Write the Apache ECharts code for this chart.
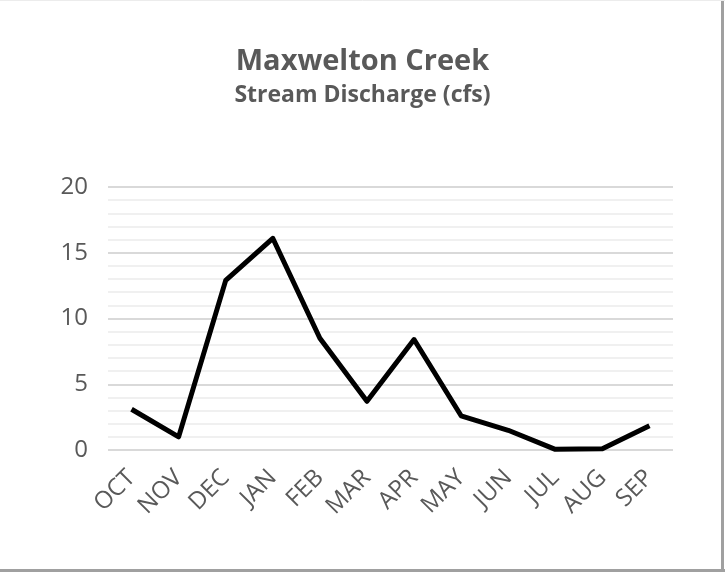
<!DOCTYPE html>
<html><head><meta charset="utf-8">
<script src="https://cdn.jsdelivr.net/npm/echarts@6/dist/echarts.min.js"></script>
<style>html,body{margin:0;padding:0;background:#fff;}#c{width:725px;height:572px;}</style>
</head><body><div id="c"></div>
<script>
const months = ['OCT','NOV','DEC','JAN','FEB','MAR','APR','MAY','JUN','JUL','AUG','SEP'];
const discharge = [3.1, 1.0, 12.9, 16.1, 8.5, 3.7, 8.4, 2.6, 1.5, 0.05, 0.1, 1.85];
const titleText = 'Maxwelton Creek';
const subtitleText = 'Stream Discharge (cfs)';

const chart = echarts.init(document.getElementById('c'));
chart.setOption({
  backgroundColor: '#fff',
  animation: false,
  title: {
    text: titleText, subtext: subtitleText, left: 'center', top: 42, itemGap: 8,
    textStyle: {fontFamily: 'Open Sans', fontWeight: 'bold', fontSize: 29, color: '#595959'},
    subtextStyle: {fontFamily: 'Open Sans', fontWeight: 'bold', fontSize: 23, color: '#595959'}
  },
  graphic: [
    {type: 'line', shape: {x1: 722.5, y1: 0, x2: 722.5, y2: 572}, style: {stroke: '#a0a0a0', lineWidth: 3}},
    {type: 'line', shape: {x1: 0, y1: 570.5, x2: 725, y2: 570.5}, style: {stroke: '#a0a0a0', lineWidth: 3}},
    {type: 'line', shape: {x1: 0, y1: 0.5, x2: 725, y2: 0.5}, style: {stroke: '#ececec', lineWidth: 1}}
  ],
  grid: {left: 108, right: 52, top: 187, bottom: 122},
  xAxis: {
    type: 'category', data: months, boundaryGap: true,
    axisLine: {show: false}, axisTick: {show: false},
    axisLabel: {rotate: 45, fontFamily: 'Open Sans', fontSize: 24, color: '#595959', margin: 24}
  },
  yAxis: {
    type: 'value', min: 0, max: 20, interval: 5,
    axisLine: {show: false}, axisTick: {show: false},
    axisLabel: {fontFamily: 'Open Sans', fontSize: 24, color: '#595959', margin: 20},
    splitLine: {lineStyle: {color: '#d9d9d9', width: 2}},
    minorTick: {show: false, splitNumber: 5},
    minorSplitLine: {show: true, lineStyle: {color: '#f0f0f0', width: 2}}
  },
  series: [{
    type: 'line', data: discharge, symbol: 'none',
    lineStyle: {color: '#000', width: 5, join: 'round'}
  }]
});
</script></body></html>
